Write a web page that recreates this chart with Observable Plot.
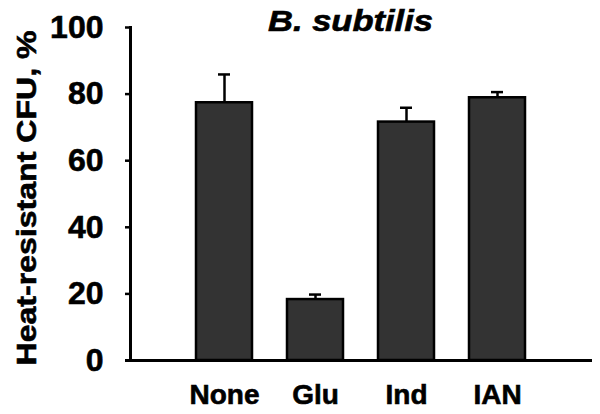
<!DOCTYPE html>
<html>
<head>
<meta charset="utf-8">
<script src="https://cdn.jsdelivr.net/npm/d3@7"></script>
<script src="https://cdn.jsdelivr.net/npm/@observablehq/plot@0.6"></script>
<style>
  html, body { margin: 0; padding: 0; background: #fff; }
  #chart svg { display: block; }
</style>
</head>
<body>
<div id="chart"></div>
<script>
const categories = ["None", "Glu", "Ind", "IAN"];
const means = [77.4, 18.3, 71.6, 78.9];
const errors = [8.5, 1.5, 4.3, 1.7];
const yTicks = [0, 20, 40, 60, 80, 100];
const title = "B. subtilis";
const yLabel = "Heat-resistant CFU, %";

const data = categories.map((c, i) => ({cat: c, value: means[i], err: errors[i]}));

const font = "'Liberation Sans', Arial, Helvetica, sans-serif";

const chart = Plot.plot({
  width: 600,
  height: 414,
  marginTop: 27,
  marginBottom: 54,
  marginLeft: 130,
  marginRight: 8,
  style: {fontFamily: font, fontWeight: "bold", color: "#000", background: "#fff"},
  x: {domain: categories, type: "band", paddingInner: 0.38, paddingOuter: 0.71, label: null},
  y: {domain: [0, 100], label: null},
  marks: [
    Plot.barY(data, {x: "cat", y: "value", fill: "#333333", stroke: "#000", strokeWidth: 2.5}),
    Plot.ruleX(data, {x: "cat", y1: "value", y2: d => d.value + d.err, stroke: "#000", strokeWidth: 2.5}),
    Plot.tickY(data, {x: "cat", y: d => d.value + d.err, stroke: "#000", strokeWidth: 2.5, insetLeft: 22, insetRight: 22}),
    Plot.frame({anchor: "left", stroke: "#000", strokeWidth: 3}),
    Plot.ruleY([0], {stroke: "#000", strokeWidth: 3, insetLeft: -5}),
    Plot.axisY({ticks: yTicks, tickSize: 5, tickPadding: 22, strokeWidth: 2.5, fontSize: 32, fontWeight: "bold", fill: "#000", stroke: "#000", label: null, className: "yax"}),
    Plot.axisX({tickSize: 0, tickPadding: 24, fontSize: 28, fontWeight: "bold", fill: "#000", label: null, className: "xax"}),
    Plot.text([title], {frameAnchor: "top", lineAnchor: "bottom", dx: -11, dy: 3, fontSize: 29, fontWeight: "bold", fontStyle: "italic", fill: "#000", className: "ttl"}),
    Plot.text([yLabel], {frameAnchor: "bottom-left", lineAnchor: "bottom", textAnchor: "start", rotate: -90, dx: -95, dy: 5, fontSize: 27, fontWeight: "bold", fill: "#000", className: "ylab"})
  ]
});

document.getElementById("chart").appendChild(chart);

// stretch texts to match the reference proportions
const svg = d3.select(chart);
svg.selectAll(".ttl text").attr("textLength", 165).attr("lengthAdjust", "spacingAndGlyphs");
svg.selectAll(".ylab text").attr("textLength", 335).attr("lengthAdjust", "spacingAndGlyphs");
// slightly heavier glyphs, like the reference
svg.selectAll("text").attr("stroke", "#000").attr("stroke-width", 0.6);
</script>
</body>
</html>
